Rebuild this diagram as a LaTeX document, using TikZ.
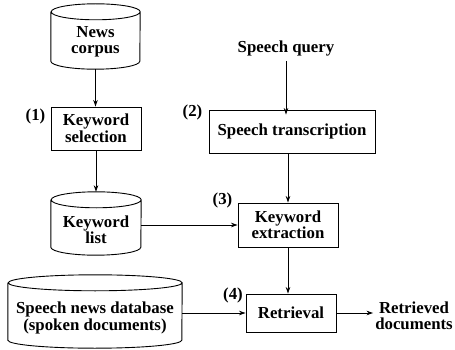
\documentclass[tikz,border=0pt]{standalone}
\usepackage{fontspec}
\setmainfont{Liberation Serif}
\usetikzlibrary{arrows.meta}
\newcommand\drawcyl[3]{%
  \draw[cylline] ([yshift=-#3]#1.north west) -- ([yshift=#3]#1.south west)
    arc[start angle=180,end angle=360,x radius=#2,y radius=#3]
    -- ([yshift=-#3]#1.north east)
    arc[start angle=0,end angle=360,x radius=#2,y radius=#3];}
\begin{document}
\begin{tikzpicture}[x=1pt,y=1pt,
  font=\fontsize{16.8}{16.5}\selectfont\bfseries,
  box/.style={draw, line width=0.9pt, inner sep=0pt, align=center},
  area/.style={inner sep=0pt},
  txt/.style={align=center, inner sep=0pt},
  arr/.style={-{Stealth[length=6.5pt,width=4.5pt]}, line width=0.9pt},
  cylline/.style={line width=0.9pt}]
\useasboundingbox (0,0) rectangle (455,-350);

% cylinders
\node[area, minimum width=89pt, minimum height=65pt] (nc) at (95.5,-36.5) {};
\node[txt] (nct) at (95.5,-42) {News\\corpus};
\drawcyl{nc}{44.5pt}{8pt}

\node[area, minimum width=90pt, minimum height=63pt] (kl) at (96,-223.5) {};
\node[txt] (klt) at (96,-230) {Keyword\\list};
\drawcyl{kl}{45pt}{8pt}

\node[area, minimum width=174pt, minimum height=73pt] (db) at (95,-311.5) {};
\node[txt] (dbt) at (95,-318) {Speech news database\\(spoken documents)};
\drawcyl{db}{87pt}{8pt}

% boxes
\node[box, minimum width=90pt, minimum height=43pt] (ks) at (96,-128.5) {Keyword\\selection};
\node[box, minimum width=166pt, minimum height=43pt] (st) at (292,-131.5) {Speech transcription};
\node[box, minimum width=100pt, minimum height=44pt] (ke) at (288,-225) {Keyword\\extraction};
\node[box, minimum width=90pt, minimum height=38pt] (rt) at (291,-313) {Retrieval};

% free texts
\node[txt] (sq) at (286,-48) {Speech query};
\node[txt] (rd) at (414,-316) {Retrieved\\documents};

% step labels
\node[txt] (l1) at (35.5,-116) {(1)};
\node[txt] (l2) at (192.5,-112) {(2)};
\node[txt] (l3) at (222.5,-200) {(3)};
\node[txt] (l4) at (233,-295.5) {(4)};

% connectors
\draw[arr] (nc.south) -- (nc.south |- ks.north);
\draw[arr] (ks.south) -- (ks.south |- kl.north);
\draw[arr] ([yshift=-5pt]sq.south) -- ([yshift=-5pt]sq.south |- st.north);
\draw[arr] (ke.north |- st.south) -- (ke.north);
\draw[arr] (kl.east |- ke.west) -- (ke.west);
\draw[arr] (ke.south) -- (ke.south |- rt.north);
\draw[arr] (db.east |- rt.west) -- (rt.west);
\draw[arr] (rt.east) -- ([xshift=-2pt]rt.east -| rd.west);
\end{tikzpicture}
\end{document}
